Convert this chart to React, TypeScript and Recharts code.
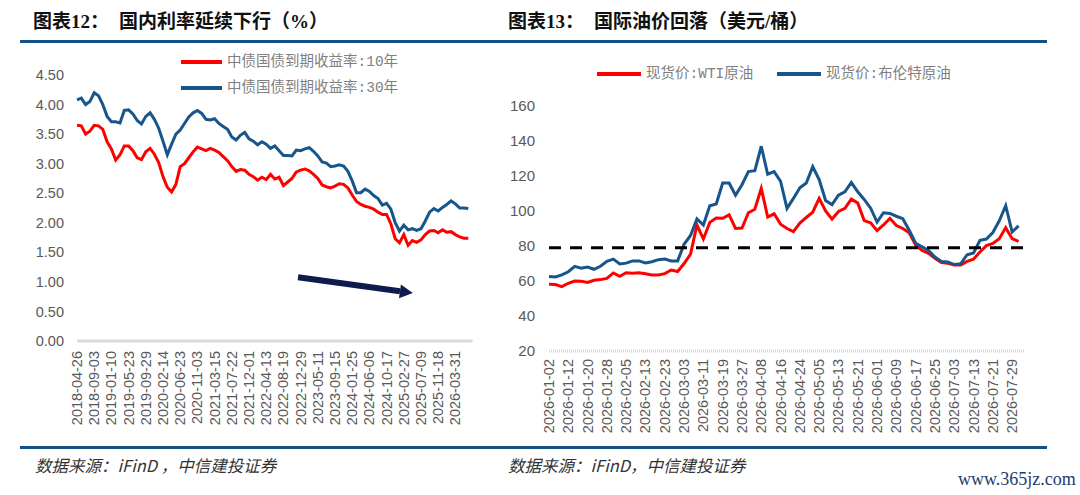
import { LineChart, Line, XAxis, YAxis, ReferenceLine } from 'recharts'

// ---------- 图表12：国内利率 ----------
const bondTickLabels = [
  '2018-04-26', '2018-09-03', '2019-01-10', '2019-05-23', '2019-09-29', '2020-02-14',
  '2020-06-23', '2020-11-03', '2021-03-15', '2021-07-22', '2021-12-01', '2022-04-13',
  '2022-08-19', '2022-12-29', '2023-05-11', '2023-09-15', '2024-01-25', '2024-06-06',
  '2024-10-17', '2025-02-27', '2025-07-09', '2025-11-18', '2026-03-31',
]
const bondTickEvery = 4 // samples between two labels

const cgb10y = [
  3.65, 3.64, 3.5, 3.55, 3.65, 3.64, 3.58, 3.37, 3.25, 3.06, 3.15, 3.3, 3.3, 3.22, 3.1, 3.07,
  3.2, 3.26, 3.16, 3.02, 2.78, 2.6, 2.52, 2.65, 2.95, 3.0, 3.1, 3.2, 3.28, 3.25, 3.22, 3.26,
  3.23, 3.19, 3.12, 3.05, 2.95, 2.87, 2.9, 2.89, 2.82, 2.78, 2.72, 2.77, 2.73, 2.82, 2.74, 2.77,
  2.63, 2.69, 2.75, 2.86, 2.89, 2.91, 2.88, 2.82, 2.75, 2.64, 2.61, 2.59, 2.62, 2.66, 2.65, 2.59,
  2.47, 2.36, 2.31, 2.28, 2.26, 2.23, 2.18, 2.14, 2.14, 1.98, 1.73, 1.66, 1.8, 1.62, 1.7, 1.67,
  1.71, 1.8, 1.86, 1.87, 1.83, 1.88, 1.84, 1.85, 1.8, 1.76, 1.74, 1.74,
]
const cgb30y = [
  4.08, 4.11, 4.0, 4.05, 4.2, 4.15, 4.0, 3.8, 3.71, 3.71, 3.69, 3.9, 3.91, 3.84, 3.73, 3.67,
  3.8, 3.86, 3.75, 3.6, 3.38, 3.15, 3.33, 3.5, 3.57, 3.68, 3.79, 3.86, 3.9, 3.85, 3.75, 3.74,
  3.76, 3.68, 3.63, 3.58, 3.45, 3.4, 3.48, 3.53, 3.42, 3.38, 3.32, 3.37, 3.33, 3.26, 3.3, 3.22,
  3.14, 3.14, 3.13, 3.23, 3.22, 3.25, 3.27, 3.21, 3.13, 3.03, 3.01, 2.95, 2.96, 2.98, 2.96, 2.87,
  2.71, 2.51, 2.51, 2.57, 2.53, 2.46, 2.41, 2.3, 2.33, 2.23, 2.0, 1.86, 1.96, 1.88, 1.9, 1.87,
  1.9, 2.03, 2.18, 2.24, 2.2, 2.26, 2.31, 2.37, 2.32, 2.25, 2.25, 2.24,
]
const bondYTicks = [0, 0.5, 1, 1.5, 2, 2.5, 3, 3.5, 4, 4.5]
const bondArrow = [{ x: 51.4, y: 1.08 }, { x: 78.1, y: 0.81 }]

// ---------- 图表13：国际油价 ----------
const oilTickLabels = [
  '2026-01-02', '2026-01-12', '2026-01-20', '2026-01-28', '2026-02-05', '2026-02-13',
  '2026-02-23', '2026-03-03', '2026-03-11', '2026-03-19', '2026-03-27', '2026-04-08',
  '2026-04-16', '2026-04-24', '2026-05-05', '2026-05-13', '2026-05-21', '2026-06-01',
  '2026-06-09', '2026-06-17', '2026-06-25', '2026-07-03', '2026-07-13', '2026-07-21',
  '2026-07-29',
]
const oilTickEvery = 3

const wtiSpot = [
  58.2, 58, 56.8, 58.7, 60, 59.8, 59.2, 60.4, 60.8, 61.5, 64.6, 62.7, 64.7, 64.5, 64.7, 64.1,
  63.4, 63.4, 64.2, 66.3, 65.4, 70, 75.3, 92, 84, 93.5, 96, 95.8, 97.8, 90, 90.3, 99,
  101, 112.9, 96.5, 98.4, 92.4, 90, 88.2, 93.1, 96.3, 99.3, 107.2, 100, 95.3, 99.7, 101.5, 106.8,
  104.6, 94.5, 93.3, 88.8, 92, 95.8, 91.7, 90, 87.5, 80.6, 77.4, 75.8, 73, 70.5, 70.1, 69.1,
  69.1, 71.2, 72.5, 76.6, 80.2, 81.5, 84.1, 90.5, 84.2, 82.6,
]
const brentSpot = [
  62.6, 62.3, 63.5, 65.3, 68.4, 67.3, 68, 66.7, 68.4, 71.2, 72.5, 69.7, 70.2, 71.5, 71.5, 70.3,
  71, 72.2, 72.6, 71.5, 71.5, 81, 86, 95.5, 92, 103, 104, 116, 116, 109, 115, 122.5,
  123, 137, 121, 122.5, 117, 101.5, 107.2, 113.3, 116, 125.3, 118, 106, 103.6, 109, 111, 116.4,
  111, 106.6, 101.6, 93.7, 99, 98.6, 97, 95.6, 89, 81.6, 79.5, 77.4, 73.7, 71.2, 70.9, 69.4,
  69.8, 75, 76, 83.3, 84, 87.7, 94.4, 103, 88, 91.5,
]
const oilYTicks = [20, 40, 60, 80, 100, 120, 140, 160]
const oilRefLevel = 79

const RED = '#ff0000'
const BLUE = '#17558a'
const RULE = '#125085'
const GRAY = '#595959'
const SANS = '"Liberation Sans", Arial, sans-serif'
const CJK = '"Noto Sans CJK SC", sans-serif'

const bondData = cgb10y.map((v, i) => ({ i, y10: v, y30: cgb30y[i] }))
const oilData = wtiSpot.map((v, i) => ({ i, wti: v, brent: brentSpot[i] }))
const bondTicks = bondTickLabels.map((_, k) => k * bondTickEvery)
const oilTicks = oilTickLabels.map((_, k) => k * oilTickEvery)

const RotatedTick = ({ x, y, payload, labels, every, offset }: any) => {
  const label = labels[Math.round(payload.value / every)]
  return (
    <text
      x={0}
      y={0}
      transform={`translate(${x},${y + offset}) rotate(-90)`}
      textAnchor="end"
      dominantBaseline="central"
      fill={GRAY}
      fontSize={14.5}
      fontFamily={SANS}
    >
      {label}
    </text>
  )
}

const ArrowShape = (props: any) => {
  const { x1, y1, x2, y2 } = props
  const len = Math.hypot(x2 - x1, y2 - y1) || 1
  const ux = (x2 - x1) / len
  const uy = (y2 - y1) / len
  const head = 13
  const half = 7
  const bx = x2 - ux * head
  const by = y2 - uy * head
  return (
    <g>
      <line x1={x1} y1={y1} x2={bx} y2={by} stroke="#0e1c4d" strokeWidth={6} />
      <polygon
        points={`${x2},${y2} ${bx - uy * half},${by + ux * half} ${bx + uy * half},${by - ux * half}`}
        fill="#0e1c4d"
      />
    </g>
  )
}

const LegendItem = ({ left, top, color, width, text }: any) => (
  <>
    <div style={{ position: 'absolute', left, top: top - 1.75, width, height: 3.5, background: color }} />
    <div
      style={{
        position: 'absolute',
        left: left + width + 5,
        top: top - 9,
        lineHeight: '18px',
        fontSize: 14.5,
        color: '#7f7f7f',
        fontFamily: `"Liberation Mono", ${CJK}`,
        whiteSpace: 'nowrap',
      }}
    >
      {text}
    </div>
  </>
)

const Title = ({ left, num, text }: any) => (
  <>
    <div
      style={{
        position: 'absolute', left, top: 12, fontSize: 19, lineHeight: '20px', fontWeight: 700,
        fontFamily: `"Liberation Serif", ${CJK}`, color: '#111', whiteSpace: 'nowrap',
      }}
    >
      {num}
    </div>
    <div
      style={{
        position: 'absolute', left: left + 86, top: 12, fontSize: 19, lineHeight: '20px', fontWeight: 700,
        fontFamily: `"Liberation Serif", ${CJK}`, color: '#111', whiteSpace: 'nowrap',
      }}
    >
      {text}
    </div>
  </>
)

const sourceStyle: any = {
  position: 'absolute', top: 456, fontSize: 16.5, lineHeight: '18px', fontStyle: 'italic',
  color: '#333', fontFamily: CJK, whiteSpace: 'nowrap',
}

export default function App() {
  return (
    <div
      style={{
        position: 'absolute', left: 0, top: 0, width: 1080, height: 495,
        background: '#fff', overflow: 'hidden',
      }}
    >
      <Title left={33} num="图表12：" text="国内利率延续下行（%）" />
      <Title left={508} num="图表13：" text="国际油价回落（美元/桶）" />
      <div style={{ position: 'absolute', left: 20, top: 40, width: 1027, height: 3, background: RULE }} />
      <div style={{ position: 'absolute', left: 20, top: 446, width: 1027, height: 3, background: RULE }} />

      <div style={{ position: 'absolute', left: 0, top: 0 }}>
        <LineChart width={540} height={460} data={bondData} margin={{ top: 75, right: 67.4, bottom: 19, left: 32 }}>
          <XAxis
            dataKey="i"
            type="number"
            domain={[0, 92]}
            ticks={bondTicks}
            interval={0}
            axisLine={{ stroke: '#d9d9d9', strokeWidth: 3 }}
            tickLine={false}
            tickSize={0}
            tickMargin={0}
            height={100}
            tick={(p: any) => <RotatedTick {...p} labels={bondTickLabels} every={bondTickEvery} offset={10} />}
          />
          <YAxis
            type="number"
            domain={[0, 4.5]}
            ticks={bondYTicks}
            interval={0}
            width={45}
            axisLine={false}
            tickLine={false}
            tickSize={0}
            tickMargin={13}
            tickFormatter={(v: number) => v.toFixed(2)}
            tick={{ fill: GRAY, fontSize: 14.5, fontFamily: SANS }}
          />
          <Line dataKey="y10" type="linear" stroke={RED} strokeWidth={3} dot={false} isAnimationActive={false} />
          <Line dataKey="y30" type="linear" stroke={BLUE} strokeWidth={3} dot={false} isAnimationActive={false} />
          <ReferenceLine segment={bondArrow} shape={ArrowShape} ifOverflow="visible" />
        </LineChart>
      </div>

      <div style={{ position: 'absolute', left: 500, top: 0 }}>
        <LineChart width={580} height={460} data={oilData} margin={{ top: 106, right: 55, bottom: 9, left: 9 }}>
          <XAxis
            dataKey="i"
            type="number"
            domain={[0, 74]}
            ticks={oilTicks}
            interval={0}
            axisLine={{ stroke: '#d4d4d4', strokeWidth: 3, strokeDasharray: '1 1' }}
            tickLine={false}
            tickSize={0}
            tickMargin={0}
            height={100}
            tick={(p: any) => <RotatedTick {...p} labels={oilTickLabels} every={oilTickEvery} offset={8} />}
          />
          <YAxis
            type="number"
            domain={[20, 160]}
            ticks={oilYTicks}
            interval={0}
            width={40}
            axisLine={false}
            tickLine={false}
            tickSize={0}
            tickMargin={14}
            tick={{ fill: GRAY, fontSize: 15, fontFamily: SANS }}
          />
          <Line dataKey="wti" type="linear" stroke={RED} strokeWidth={3} dot={false} isAnimationActive={false} />
          <Line dataKey="brent" type="linear" stroke={BLUE} strokeWidth={3} dot={false} isAnimationActive={false} />
          <ReferenceLine y={oilRefLevel} stroke="#000" strokeWidth={3} strokeDasharray="12 9" />
        </LineChart>
      </div>

      <LegendItem left={181} top={62} color={RED} width={41} text="中债国债到期收益率:10年" />
      <LegendItem left={181} top={88} color={BLUE} width={41} text="中债国债到期收益率:30年" />
      <LegendItem left={597} top={74} color={RED} width={44} text="现货价:WTI原油" />
      <LegendItem left={777} top={74} color={BLUE} width={44} text="现货价:布伦特原油" />

      <div style={{ ...sourceStyle, left: 35 }}>数据来源：iFinD ，中信建投证券</div>
      <div style={{ ...sourceStyle, left: 508 }}>数据来源：iFinD，中信建投证券</div>
      <div
        style={{
          position: 'absolute', left: 958, top: 469, fontSize: 18, lineHeight: '20px',
          fontFamily: '"Liberation Serif", serif', color: '#1d3c6e',
        }}
      >
        www.365jz.com
      </div>
    </div>
  )
}
